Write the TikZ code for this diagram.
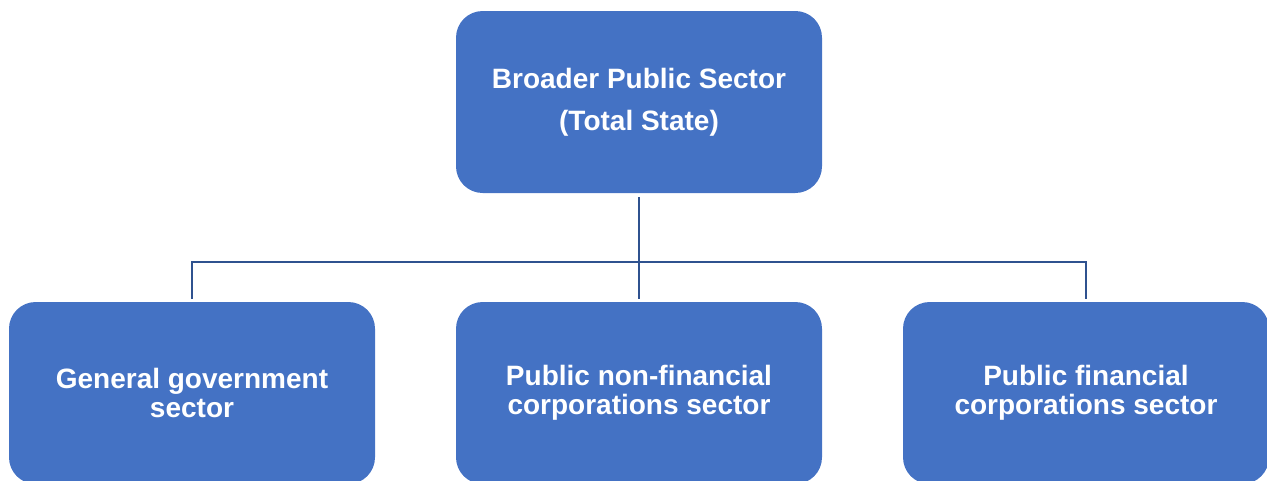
\documentclass[tikz,border=0pt]{standalone}
\usepackage{fontspec}
\setmainfont{Liberation Sans}
\definecolor{boxblue}{HTML}{4472C4}
\definecolor{lineblue}{HTML}{2F528F}
\begin{document}
\begin{tikzpicture}[x=0.75pt,y=-0.75pt,
  sector/.style={fill=boxblue, draw=none, rounded corners=20pt, minimum width=274.5pt,
    minimum height=136.5pt, text=white, align=center, inner sep=0pt},
  toptext/.style={font=\bfseries\fontsize{21}{31.5}\selectfont},
  subtext/.style={font=\bfseries\fontsize{21}{21.75}\selectfont},
  conn/.style={draw=lineblue, line width=1.6pt}]
\useasboundingbox (0,0) rectangle (1267,480);
\clip (0,0) rectangle (1267,480);
\node[sector, toptext] (top) at (639,102) {Broader Public Sector\\(Total State)};
\node[sector, subtext] (gg) at (192,393) {General government\\sector};
\node[sector, subtext] (pnfc) at (639,393) {Public non-financial\\corporations sector};
\node[sector, subtext] (pfc) at (1086,393) {Public financial\\corporations sector};
\coordinate (j) at (639,262);
\draw[conn] ([yshift=-3pt]top.south) -- (j);
\draw[conn] (j) -| ([yshift=2pt]gg.north);
\draw[conn] (j) -| ([yshift=2pt]pfc.north);
\draw[conn] (j) -- ([yshift=2pt]pnfc.north);
\end{tikzpicture}
\end{document}
